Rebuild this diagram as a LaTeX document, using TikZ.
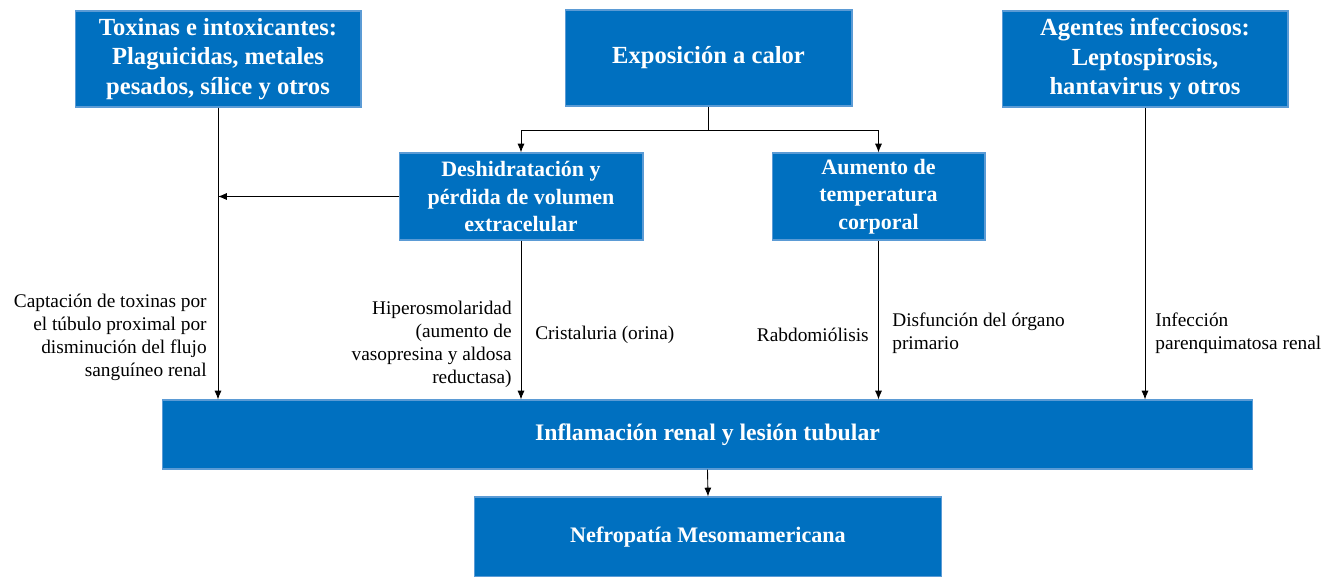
\documentclass[tikz,border=0pt]{standalone}
\usepackage{fontspec}
\setmainfont{Liberation Serif}
\usetikzlibrary{arrows.meta}
\definecolor{boxblue}{HTML}{0070C0}
\definecolor{boxline}{HTML}{5B9BD5}
\tikzset{bluebox/.style={fill=boxblue, draw=boxline, line width=0.6pt, text=white,
    align=center, inner sep=0pt, font=\fontsize{12.5}{15.5}\selectfont\bfseries},
  bigbox/.style={bluebox, font=\fontsize{14}{17}\selectfont\bfseries},
  note/.style={inner sep=0pt, font=\fontsize{11}{13}\selectfont},
  link/.style={-{Latex[length=5pt,width=4pt]}, line width=0.5pt}}

\begin{document}
\begin{tikzpicture}[x=0.02cm,y=-0.02cm]
  \useasboundingbox (0,0) rectangle (1322,576);
  % causes
  \node[bigbox, minimum width=5.72cm, minimum height=1.92cm] (toxinas) at (218,59)
    {Toxinas e intoxicantes:\\Plaguicidas, metales\\pesados, sílice y otros};
  \node[bigbox, minimum width=5.74cm, minimum height=1.92cm] (calor) at (708.5,58)
    {Exposición a calor};
  \node[bigbox, minimum width=5.72cm, minimum height=1.92cm] (agentes) at (1145,59)
    {Agentes infecciosos:\\Leptospirosis,\\hantavirus y otros};
  \node[bluebox, minimum width=4.88cm, minimum height=1.74cm] (deshid) at (521,196.5)
    {Deshidratación y\\pérdida de volumen\\extracelular};
  \node[bluebox, minimum width=4.26cm, minimum height=1.74cm] (aumento) at (878.5,196.5)
    {Aumento de\\temperatura\\corporal};
  % effects
  \node[bluebox, minimum width=21.82cm, minimum height=1.38cm,
    font=\fontsize{13.5}{16}\selectfont\bfseries] (inflam) at (707.5,434.5)
    {Inflamación renal y lesión tubular};
  \node[bluebox, minimum width=9.36cm, minimum height=1.6cm,
    font=\fontsize{12.6}{15}\selectfont\bfseries] (nefro) at (708,537)
    {Nefropatía Mesomamericana};

  % connectors
  \draw (calor.south) -- ++(0,24) coordinate (split);
  \draw[link] (split) -| (deshid.north);
  \draw[link] (split) -| (aumento.north);
  \draw[link] (deshid.west) -- (deshid.west -| toxinas.south);
  \foreach \src in {toxinas,deshid,aumento,agentes}
    \draw[link] (\src.south) -- (\src.south |- inflam.north);
  \draw[link] (inflam.south) -- (nefro.north);

  % labels
  \node[note, anchor=north east, align=right] (captacion) at (207,294)
    {Captación de toxinas por\\el túbulo proximal por\\disminución del flujo\\sanguíneo renal};
  \node[note, anchor=north east, align=right] (hiperosm) at (512,301)
    {Hiperosmolaridad\\(aumento de\\vasopresina y aldosa\\reductasa)};
  \node[note, anchor=west] (cristal) at (535,335) {Cristaluria (orina)};
  \node[note, anchor=east] (rabdo) at (869,335) {Rabdomiólisis};
  \node[note, anchor=north west, align=left] (disfuncion) at (892,313)
    {Disfunción del órgano\\primario};
  \node[note, anchor=north west, align=left] (infeccion) at (1155,313)
    {Infección\\parenquimatosa renal};
\end{tikzpicture}
\end{document}
